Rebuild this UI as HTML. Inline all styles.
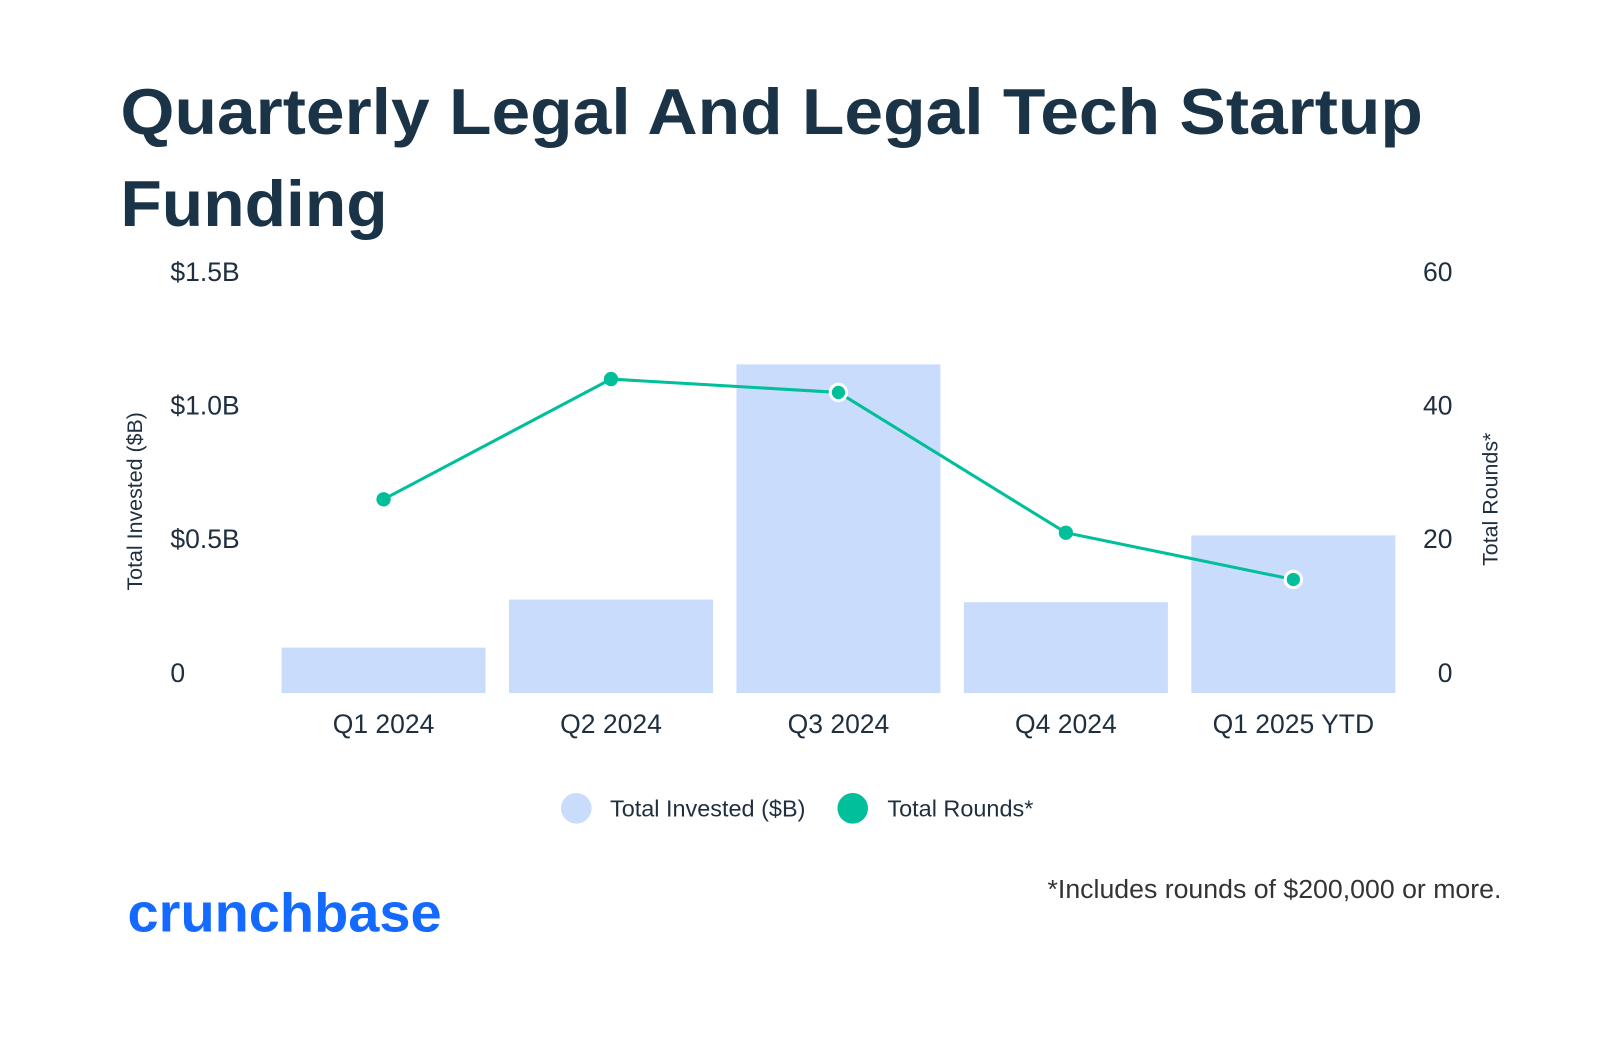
<!DOCTYPE html>
<html><head><meta charset="utf-8"><style>
html,body{margin:0;padding:0;background:#fff;}
svg{display:block;font-family:"Liberation Sans",sans-serif;}
</style></head><body>
<svg width="1600" height="1048" viewBox="0 -1.5 1568.6 1027.5" xmlns="http://www.w3.org/2000/svg">
<rect y="-5" width="1570" height="1040" fill="#fff"/>
<text x="118" y="130" font-size="64" font-weight="bold" fill="#1b3347" textLength="1277" lengthAdjust="spacingAndGlyphs">Quarterly Legal And Legal Tech Startup</text>
<text x="118" y="220" font-size="64" font-weight="bold" fill="#1b3347" textLength="262" lengthAdjust="spacingAndGlyphs">Funding</text>
<g id="axes"></g>
<g id="bars"></g>
<g id="line"></g>
<text transform="translate(139,490) rotate(-90)" text-anchor="middle" font-size="21" fill="#1f2f3f">Total Invested ($B)</text>
<text transform="translate(1468,488) rotate(-90)" text-anchor="middle" font-size="21" fill="#1f2f3f">Total Rounds*</text>
<g>
<circle cx="565" cy="791" r="15" fill="#cadcfc"/>
<text x="598" y="799" font-size="23" fill="#1f2f3f">Total Invested ($B)</text>
<circle cx="836" cy="791" r="15" fill="#00bf9a"/>
<text x="870" y="799" font-size="23" fill="#1f2f3f">Total Rounds*</text>
</g>
<text x="1472" y="879" text-anchor="end" font-size="25" fill="#333" textLength="445" lengthAdjust="spacingAndGlyphs">*Includes rounds of $200,000 or more.</text>
<text x="125" y="912" font-size="54" font-weight="bold" fill="#146aff" textLength="308" lengthAdjust="spacingAndGlyphs">crunchbase</text>
</svg>
<script>
const categories=["Q1 2024","Q2 2024","Q3 2024","Q4 2024","Q1 2025 YTD"];
const invested=[0.17,0.35,1.23,0.34,0.59];
const rounds=[29,47,45,24,17];
const leftTicks=[0,0.5,1.0,1.5];
const leftTickLabels=["0","$0.5B","$1.0B","$1.5B"];
const rightTicks=[0,20,40,60];
const ns="http://www.w3.org/2000/svg";
const y0=678,yTop=285;
const yL=v=>y0-(v/1.5)*(y0-yTop);
const yR=v=>y0-(v/60)*(y0-yTop);
const xC=i=>376+i*223;
function mk(tag,attrs,parent,text){const e=document.createElementNS(ns,tag);for(const k in attrs)e.setAttribute(k,attrs[k]);if(text!==undefined)e.textContent=text;document.getElementById(parent).appendChild(e);return e;}
leftTicks.forEach((t,i)=>{const e=mk('text',{x:167,y:yL(t)-11,'font-size':26,fill:'#1f2f3f'},'axes',leftTickLabels[i]);

});
rightTicks.forEach(t=>{const e=mk('text',{x:1424,y:yR(t)-11,'font-size':26,fill:'#1f2f3f','text-anchor':'end'},'axes',String(t));

});
categories.forEach((c,i)=>{const e=mk('text',{x:xC(i),y:717,'font-size':26,fill:'#1f2f3f','text-anchor':'middle'},'axes',c);


const b=mk('rect',{x:xC(i)-100,y:yL(invested[i]),width:200,height:y0-yL(invested[i]),fill:'#cadcfc'},'bars');

});
const pl=mk('polyline',{points:rounds.map((r,i)=>xC(i)+','+yR(r)).join(' '),fill:'none',stroke:'#00bf9a','stroke-width':3},'line');


rounds.forEach((r,i)=>{const wide=(i==2||i==4);const p=mk('circle',{cx:xC(i),cy:yR(r),r:wide?8:7,fill:'#00bf9a',stroke:'#fff','stroke-width':wide?3:0},'line');

});
</script>
</body></html>
